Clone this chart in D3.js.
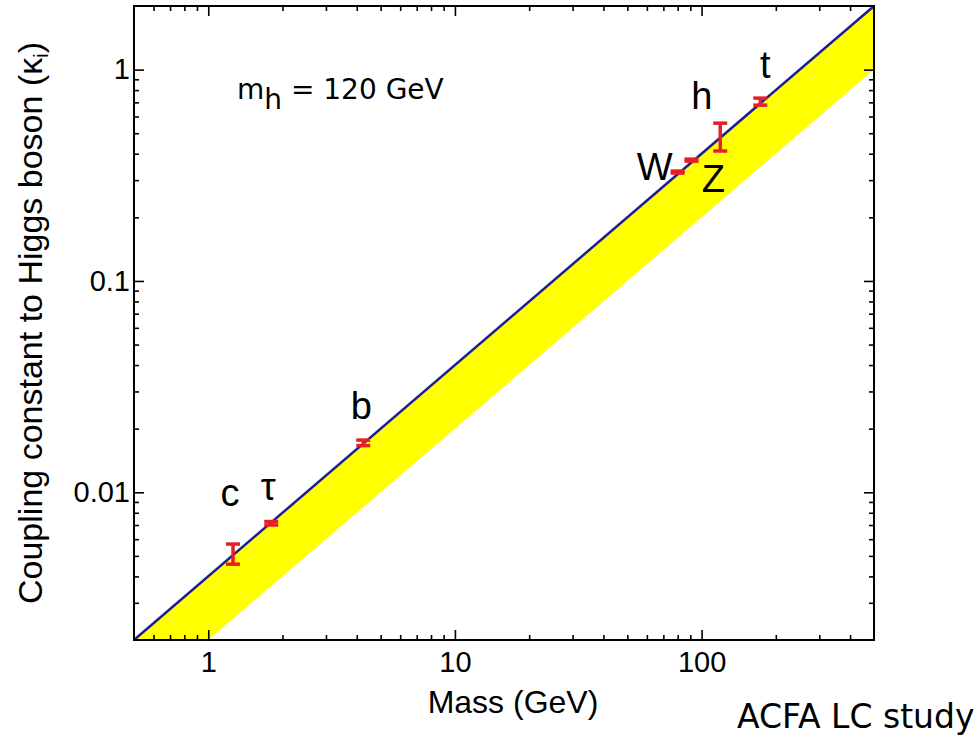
<!DOCTYPE html>
<html>
<head>
<meta charset="utf-8">
<script src="https://cdn.jsdelivr.net/npm/d3@7"></script>
<style>
  html, body { margin: 0; padding: 0; background: #ffffff; }
  svg { display: block; }
</style>
</head>
<body>
<svg id="chart" width="980" height="737"></svg>
<script>
// ---------------- data ----------------
const massDomain = [0.5, 500];
const kappaDomain = [0.002, 2];

const massTicks = [1, 10, 100];
const massTickLabels = ["1", "10", "100"];
const massMinorTicks = [0.6, 0.7, 0.8, 0.9, 2, 3, 4, 5, 6, 7, 8, 9, 20, 30, 40, 50, 60, 70, 80, 90, 200, 300, 400];

const kappaTicks = [0.01, 0.1, 1];
const kappaTickLabels = ["0.01", "0.1", "1"];
const kappaMinorTicks = [0.003, 0.004, 0.005, 0.006, 0.007, 0.008, 0.009,
  0.02, 0.03, 0.04, 0.05, 0.06, 0.07, 0.08, 0.09,
  0.2, 0.3, 0.4, 0.5, 0.6, 0.7, 0.8, 0.9];

// SM line (upper edge of band) and lower edge of the yellow band
const lineMass = [0.5, 500];
const lineKappa = [0.002, 2];
const bandLowerKappa = [0.001, 1];

// measured couplings
const particles = ["c", "τ", "b", "W", "Z", "h", "t"];
const particleMass = [1.26, 1.80, 4.25, 80, 91, 119, 173];
const kappaLow = [0.00457, 0.00700, 0.01663, 0.324, 0.369, 0.412, 0.679];
const kappaHigh = [0.00569, 0.00727, 0.01766, 0.331, 0.377, 0.558, 0.733];

// ---------------- layout ----------------
const plot = { left: 134, top: 6, right: 874, bottom: 640 };
const svg = d3.select("#chart");
const sansFont = "'Liberation Sans', Arial, Helvetica, sans-serif";
const humanistFont = "'DejaVu Sans', Verdana, sans-serif";

const x = d3.scaleLog().domain(massDomain).range([plot.left, plot.right]);
const y = d3.scaleLog().domain(kappaDomain).range([plot.bottom, plot.top]);

svg.append("defs").append("clipPath").attr("id", "clip")
  .append("rect")
  .attr("x", plot.left).attr("y", plot.top)
  .attr("width", plot.right - plot.left).attr("height", plot.bottom - plot.top);

const inner = svg.append("g").attr("clip-path", "url(#clip)");

// yellow band
const bandPts = lineMass.map((m, i) => [x(m), y(lineKappa[i])])
  .concat(lineMass.map((m, i) => [x(m), y(bandLowerKappa[i])]).reverse());
inner.append("path")
  .attr("d", d3.line()(bandPts) + "Z")
  .attr("fill", "#ffff00")
  .attr("stroke", "none");

// blue SM line
inner.append("path")
  .attr("d", d3.line()(lineMass.map((m, i) => [x(m), y(lineKappa[i])])))
  .attr("fill", "none")
  .attr("stroke", "#1d1d96")
  .attr("stroke-width", 2.5);

// error bars
const red = "#e61f26";
const capHalf = 7;
const eb = svg.append("g");
particles.forEach((p, i) => {
  const cx = x(particleMass[i]);
  const y1 = y(kappaHigh[i]), y2 = y(kappaLow[i]);
  const g = eb.append("g").attr("stroke", red).attr("stroke-width", 3.5);
  g.append("line").attr("x1", cx).attr("x2", cx).attr("y1", y1).attr("y2", y2);
  g.append("line").attr("x1", cx - capHalf).attr("x2", cx + capHalf).attr("y1", y1).attr("y2", y1);
  g.append("line").attr("x1", cx - capHalf).attr("x2", cx + capHalf).attr("y1", y2).attr("y2", y2);
});

// particle labels (offset from the point centre, in pixels)
const labelOffset = {
  "c": [-3, -48], "τ": [-3, -23.5], "b": [-2, -24],
  "W": [-23, 8], "Z": [22, 31.5], "h": [-18.5, -28], "t": [5, -24]
};
particles.forEach((p, i) => {
  const cx = x(particleMass[i]);
  const cy = y(Math.sqrt(kappaLow[i] * kappaHigh[i]));
  const o = labelOffset[p];
  svg.append("text")
    .attr("x", cx + o[0]).attr("y", cy + o[1])
    .attr("text-anchor", "middle")
    .attr("font-family", sansFont)
    .attr("font-size", 38)
    .attr("fill", "#000")
    .text(p);
});

// ---------------- axes ----------------
function styleAxis(g) {
  g.select(".domain").remove();
  g.selectAll(".tick line").attr("stroke", "#000").attr("stroke-width", 1.6);
  g.selectAll(".tick text").attr("font-family", sansFont).attr("font-size", 29).attr("fill", "#000");
}

// bottom
svg.append("g").attr("transform", `translate(0,${plot.bottom})`)
  .call(d3.axisBottom(x).tickValues(massTicks).tickSize(-10).tickPadding(11.5)
    .tickFormat((d, i) => massTickLabels[i]))
  .call(styleAxis);
svg.append("g").attr("transform", `translate(0,${plot.bottom})`)
  .call(d3.axisBottom(x).tickValues(massMinorTicks).tickSize(-5).tickFormat(""))
  .call(styleAxis);
// top
svg.append("g").attr("transform", `translate(0,${plot.top})`)
  .call(d3.axisTop(x).tickValues(massTicks).tickSize(-10).tickFormat(""))
  .call(styleAxis);
svg.append("g").attr("transform", `translate(0,${plot.top})`)
  .call(d3.axisTop(x).tickValues(massMinorTicks).tickSize(-5).tickFormat(""))
  .call(styleAxis);
// left
svg.append("g").attr("transform", `translate(${plot.left},0)`)
  .call(d3.axisLeft(y).tickValues(kappaTicks).tickSize(-10).tickPadding(4)
    .tickFormat((d, i) => kappaTickLabels[i]))
  .call(styleAxis);
svg.append("g").attr("transform", `translate(${plot.left},0)`)
  .call(d3.axisLeft(y).tickValues(kappaMinorTicks).tickSize(-5).tickFormat(""))
  .call(styleAxis);
// right
svg.append("g").attr("transform", `translate(${plot.right},0)`)
  .call(d3.axisRight(y).tickValues(kappaTicks).tickSize(-10).tickFormat(""))
  .call(styleAxis);
svg.append("g").attr("transform", `translate(${plot.right},0)`)
  .call(d3.axisRight(y).tickValues(kappaMinorTicks).tickSize(-5).tickFormat(""))
  .call(styleAxis);

// frame
svg.append("rect")
  .attr("x", plot.left).attr("y", plot.top)
  .attr("width", plot.right - plot.left).attr("height", plot.bottom - plot.top)
  .attr("fill", "none").attr("stroke", "#000").attr("stroke-width", 2);

// axis titles
svg.append("text")
  .attr("x", 513).attr("y", 713)
  .attr("text-anchor", "middle")
  .attr("font-family", sansFont).attr("font-size", 32)
  .text("Mass (GeV)");

const yt = svg.append("text")
  .attr("transform", `translate(42,${(plot.top + plot.bottom) / 2}) rotate(-90)`)
  .attr("text-anchor", "middle")
  .attr("font-family", sansFont).attr("font-size", 34);
yt.append("tspan").text("Coupling constant to Higgs boson (κ");
yt.append("tspan").attr("font-size", 20).attr("dy", 6).text("i");
yt.append("tspan").attr("dy", -6).text(")");

// annotation m_h = 120 GeV
const mh = svg.append("text")
  .attr("x", 237).attr("y", 99)
  .attr("font-family", humanistFont).attr("font-size", 28);
mh.append("tspan").text("m");
mh.append("tspan").attr("dy", 10).text("h");
mh.append("tspan").attr("dy", -10).text(" = 120 GeV");

// credit
svg.append("text")
  .attr("x", 737).attr("y", 728)
  .attr("font-family", humanistFont).attr("font-size", 33)
  .text("ACFA LC study");
</script>
</body>
</html>
